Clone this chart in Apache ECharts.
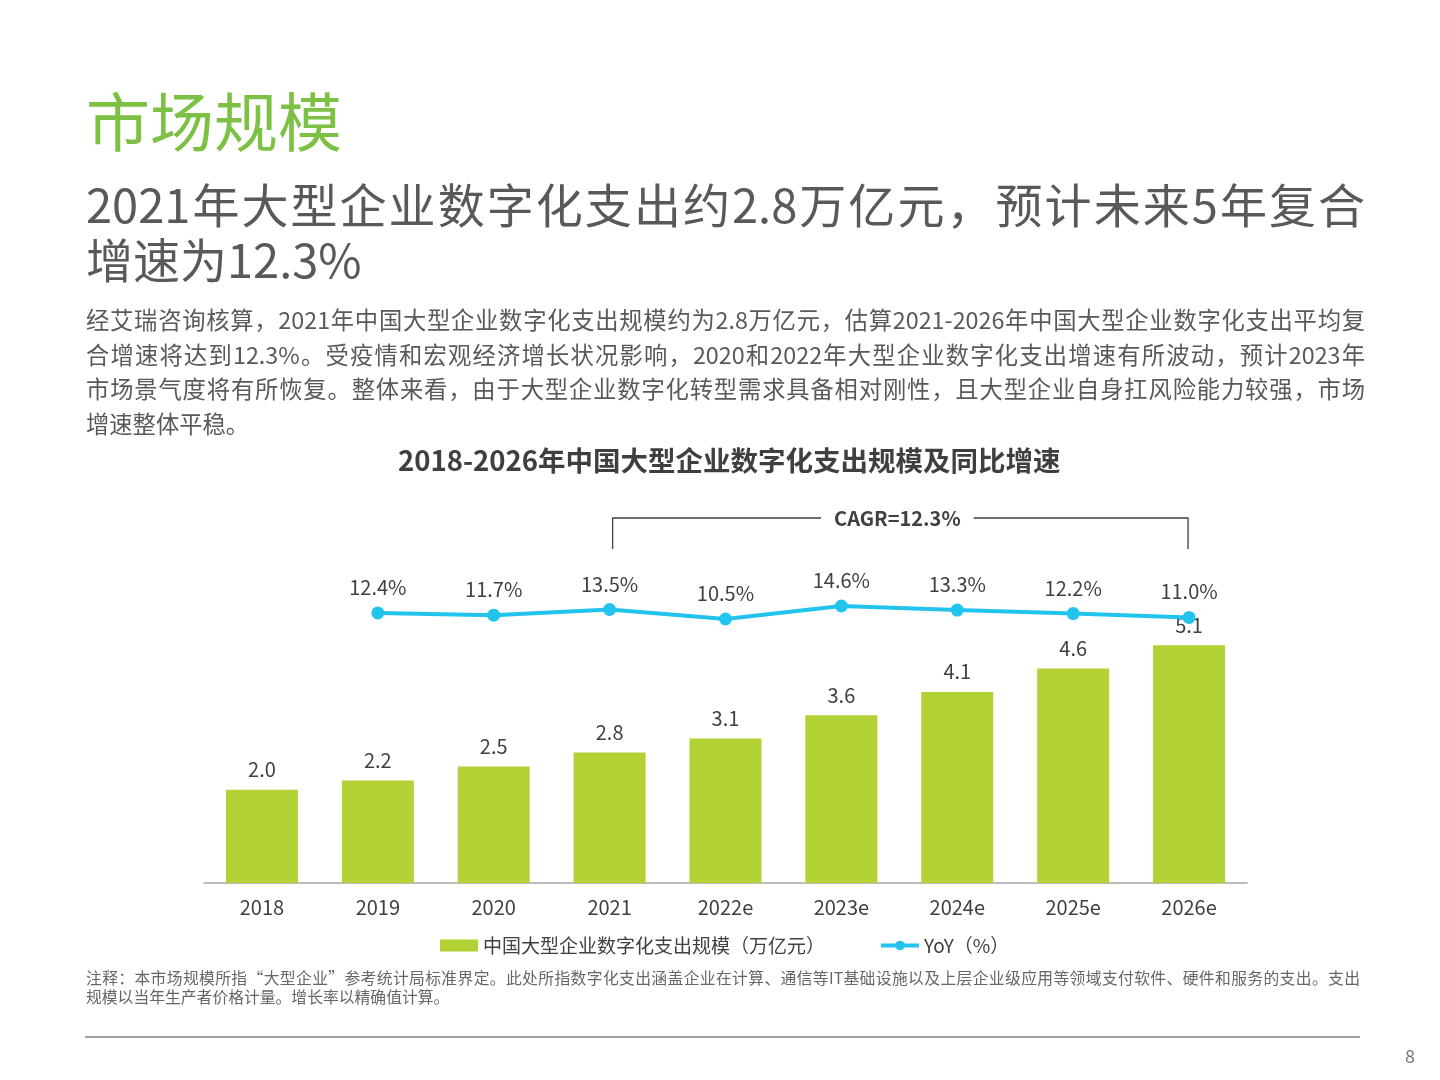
<!DOCTYPE html>
<html>
<head>
<meta charset="utf-8">
<script src="https://cdn.jsdelivr.net/npm/echarts@6/dist/echarts.min.js"></script>
<style>
html,body{margin:0;padding:0;background:#fff;}
#page{position:relative;width:1440px;height:1080px;overflow:hidden;background:#fff;font-family:'Noto Sans CJK SC','Noto Sans',sans-serif;}
#chart{position:absolute;left:0;top:0;width:1440px;height:1080px;}
.t{position:absolute;white-space:nowrap;}
.j{text-align:justify;text-align-last:justify;}
#title{left:86px;top:83px;font-size:64px;line-height:70px;color:#7cc144;}
#sub{left:86px;top:175px;width:1279px;font-size:47px;line-height:55px;color:#595959;}
#para{left:86px;top:302px;width:1279px;font-size:23.3px;line-height:34.5px;color:#595959;}
#note{left:86px;top:968px;width:1274px;font-size:15.8px;line-height:19px;color:#666;}
#rule{position:absolute;left:85px;top:1036px;width:1275px;height:2px;background:#a0a0a0;}
#pg{left:1405px;top:1043px;font-size:18px;line-height:24px;color:#777;}
</style>
</head>
<body>
<div id="page">
<div id="chart"></div>
<div class="t" id="title">市场规模</div>
<div class="t" id="sub">
  <div class="j">2021年大型企业数字化支出约2.8万亿元，预计未来5年复合</div>
  <div>增速为12.3%</div>
</div>
<div class="t" id="para">
  <div class="j">经艾瑞咨询核算，2021年中国大型企业数字化支出规模约为2.8万亿元，估算2021-2026年中国大型企业数字化支出平均复</div>
  <div class="j">合增速将达到12.3%。受疫情和宏观经济增长状况影响，2020和2022年大型企业数字化支出增速有所波动，预计2023年</div>
  <div class="j">市场景气度将有所恢复。整体来看，由于大型企业数字化转型需求具备相对刚性，且大型企业自身扛风险能力较强，市场</div>
  <div>增速整体平稳。</div>
</div>
<div class="t" id="note">
  <div class="j">注释：本市场规模所指“大型企业”参考统计局标准界定。此处所指数字化支出涵盖企业在计算、通信等IT基础设施以及上层企业级应用等领域支付软件、硬件和服务的支出。支出</div>
  <div>规模以当年生产者价格计量。增长率以精确值计算。</div>
</div>
<div id="rule"></div>
<div class="t" id="pg">8</div>
</div>
<script>
const categories = ['2018', '2019', '2020', '2021', '2022e', '2023e', '2024e', '2025e', '2026e'];
const spending = [2.0, 2.2, 2.5, 2.8, 3.1, 3.6, 4.1, 4.6, 5.1];
const yoy = [null, 12.4, 11.7, 13.5, 10.5, 14.6, 13.3, 12.2, 11.0];
const chartTitle = '2018-2026年中国大型企业数字化支出规模及同比增速';
const barName = '中国大型企业数字化支出规模（万亿元）';
const lineName = 'YoY（%）';
const cagrText = 'CAGR=12.3%';
const cagrFrom = '2021';
const cagrTo = '2026e';

const FONT = "'Noto Sans CJK SC','Noto Sans',sans-serif";
const chart = echarts.init(document.getElementById('chart'), null, {renderer: 'canvas'});
const option = {
  animation: false,
  textStyle: {fontFamily: FONT},
  title: {
    text: chartTitle,
    left: 393,
    top: 442,
    textStyle: {fontSize: 27.5, fontWeight: 'bold', color: '#3f3f3f', fontFamily: FONT}
  },
  legend: {
    left: 440,
    top: 936,
    padding: 0,
    itemWidth: 38,
    itemHeight: 12,
    itemGap: 54,
    textStyle: {fontSize: 19, color: '#404040', fontFamily: FONT},
    data: [
      {name: barName, icon: 'rect'},
      {name: lineName, lineStyle: {width: 4, color: '#22c4ee'}, itemStyle: {color: '#22c4ee'}}
    ]
  },
  grid: {left: 204, right: 193, top: 580, bottom: 197, containLabel: false},
  xAxis: {
    type: 'category',
    data: categories,
    axisLine: {lineStyle: {color: '#a6a6a6', width: 1.5}},
    axisTick: {show: false},
    axisLabel: {fontSize: 20, color: '#404040', margin: 14, fontFamily: FONT}
  },
  yAxis: [
    {type: 'value', min: 0, max: 6.5, show: false, splitLine: {show: false}},
    {type: 'value', min: -72.8, max: 22.8, show: false, splitLine: {show: false}}
  ],
  series: [
    {
      name: barName,
      type: 'bar',
      data: spending,
      barWidth: 72,
      itemStyle: {color: '#b2d235'},
      label: {
        show: true, position: 'top', distance: 10,
        fontSize: 20, color: '#404040', fontFamily: FONT,
        formatter: p => p.value.toFixed(1)
      }
    },
    {
      name: lineName,
      type: 'line',
      yAxisIndex: 1,
      data: yoy,
      z: 5,
      symbol: 'circle',
      symbolSize: 13,
      lineStyle: {color: '#22c4ee', width: 4},
      itemStyle: {color: '#22c4ee'},
      label: {
        show: true, position: 'top', distance: 9,
        fontSize: 20, color: '#404040', fontFamily: FONT,
        formatter: p => p.value.toFixed(1) + '%'
      }
    }
  ]
};
chart.setOption(option);

const x1 = chart.convertToPixel({xAxisIndex: 0}, cagrFrom) + 3;
const x2 = chart.convertToPixel({xAxisIndex: 0}, cagrTo) - 1;
const yTop = 518, yBot = 549;
chart.setOption({
  graphic: [
    {type: 'polyline', shape: {points: [[x1, yBot], [x1, yTop], [x2, yTop], [x2, yBot]]},
     style: {stroke: '#404040', lineWidth: 1.3, fill: null}},
    {type: 'text', x: (x1 + x2) / 2 - 3, y: yTop,
     style: {text: cagrText, fontSize: 20, fontWeight: 'bold', fill: '#404040', fontFamily: FONT,
             align: 'center', verticalAlign: 'middle', backgroundColor: '#fff', padding: [2, 13]}}
  ]
});
</script>
</body>
</html>
